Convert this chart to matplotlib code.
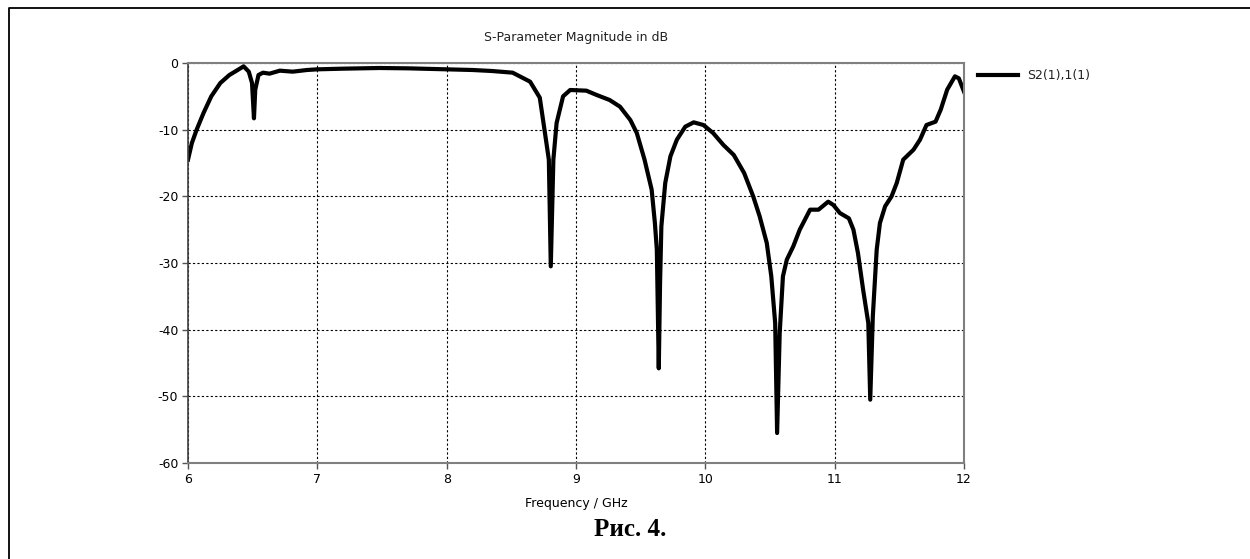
import matplotlib
matplotlib.use("Agg")
import matplotlib.pyplot as plt
from matplotlib.lines import Line2D

plt.rcParams["axes.unicode_minus"] = False

# S21 magnitude
freq = [6.0, 6.03, 6.067, 6.12, 6.18, 6.25, 6.32, 6.38, 6.43, 6.47, 6.495, 6.51, 6.52, 6.545,
        6.58, 6.63, 6.71, 6.81, 6.92, 7.0, 7.2, 7.48, 7.7, 8.0, 8.2, 8.35, 8.51, 8.57, 8.645,
        8.72, 8.76, 8.79, 8.805, 8.825, 8.85, 8.90, 8.955, 9.08, 9.16, 9.26, 9.34, 9.42, 9.47,
        9.53, 9.585, 9.61, 9.625, 9.64, 9.65, 9.66, 9.69, 9.73, 9.78, 9.845, 9.91, 9.985, 10.06,
        10.14, 10.22, 10.30, 10.37, 10.42, 10.475, 10.51, 10.54, 10.555, 10.575, 10.60, 10.63,
        10.68, 10.73, 10.81, 10.875, 10.95, 10.99, 11.04, 11.11, 11.145, 11.18, 11.22, 11.26,
        11.275, 11.295, 11.325, 11.35, 11.39, 11.44, 11.48, 11.53, 11.61, 11.66, 11.71, 11.78,
        11.82, 11.87, 11.93, 11.96, 12.0]
s21_db = [-14.5, -12.0, -10.0, -7.5, -5.0, -3.0, -1.8, -1.1, -0.5, -1.3, -3.0, -8.3, -4.0, -1.8,
          -1.45, -1.6, -1.15, -1.3, -1.05, -0.95, -0.85, -0.75, -0.8, -0.95, -1.05, -1.2, -1.45,
          -2.05, -2.8, -5.2, -10.5, -14.5, -30.5, -14.5, -9.0, -5.0, -4.05, -4.15, -4.8, -5.55,
          -6.55, -8.55, -10.5, -14.5, -19.0, -24.0, -28.0, -45.8, -33.0, -24.5, -18.0, -14.0,
          -11.5, -9.55, -8.9, -9.3, -10.5, -12.3, -13.8, -16.5, -20.0, -23.0, -27.0, -32.0,
          -39.0, -55.5, -40.5, -32.0, -29.5, -27.5, -25.0, -22.0, -22.0, -20.8, -21.3, -22.5,
          -23.3, -25.0, -28.5, -34.0, -39.0, -50.5, -38.0, -28.0, -24.0, -21.5, -20.0, -18.0,
          -14.5, -13.0, -11.5, -9.3, -8.8, -7.0, -4.0, -2.0, -2.3, -4.3]

x_ticks = [6, 7, 8, 9, 10, 11, 12]
y_ticks = [0, -10, -20, -30, -40, -50, -60]

fig = plt.figure(figsize=(12.5, 5.59), dpi=100)
ax = fig.add_axes([0.1504, 0.1717, 0.6208, 0.7156])

ax.plot(freq, s21_db, color="black", linewidth=3, solid_joinstyle="round")

ax.set_xlim(6, 12)
ax.set_ylim(-60, 0)
ax.set_xticks(x_ticks)
ax.set_yticks(y_ticks)
ax.tick_params(labelsize=9, length=4, width=1, color="#555555", pad=3)
ax.grid(True, color="black", linestyle=(0, (2, 2)), linewidth=0.8)

for side in ["top", "right", "bottom"]:
    ax.spines[side].set_color("#808080")
    ax.spines[side].set_linewidth(1.5)
ax.spines["left"].set_color("#404040")
ax.spines["left"].set_linewidth(1.2)

ax.set_title("S-Parameter Magnitude in dB", fontsize=9, pad=16, color="#222222")
ax.set_xlabel("Frequency / GHz", fontsize=9, labelpad=8)

# legend drawn at the right of the plot
fig.add_artist(Line2D([978 / 1250, 1018 / 1250], [1 - 75 / 559, 1 - 75 / 559],
                      color="black", linewidth=3))
fig.text(1027 / 1250, 1 - 75 / 559, "S2(1),1(1)", fontsize=9, va="center", ha="left",
         color="#222222")

# caption
fig.text(630 / 1250, 1 - 530 / 559, "Рис. 4.", fontsize=18, fontweight="bold",
         family="Liberation Serif", ha="center", va="center")

# page border (left and top edges)
fig.add_artist(Line2D([8.5 / 1250, 8.5 / 1250, 1.0], [0.0, 1 - 7.5 / 559, 1 - 7.5 / 559],
                      color="black", linewidth=1.3))

fig.savefig("out.png", dpi=100)
